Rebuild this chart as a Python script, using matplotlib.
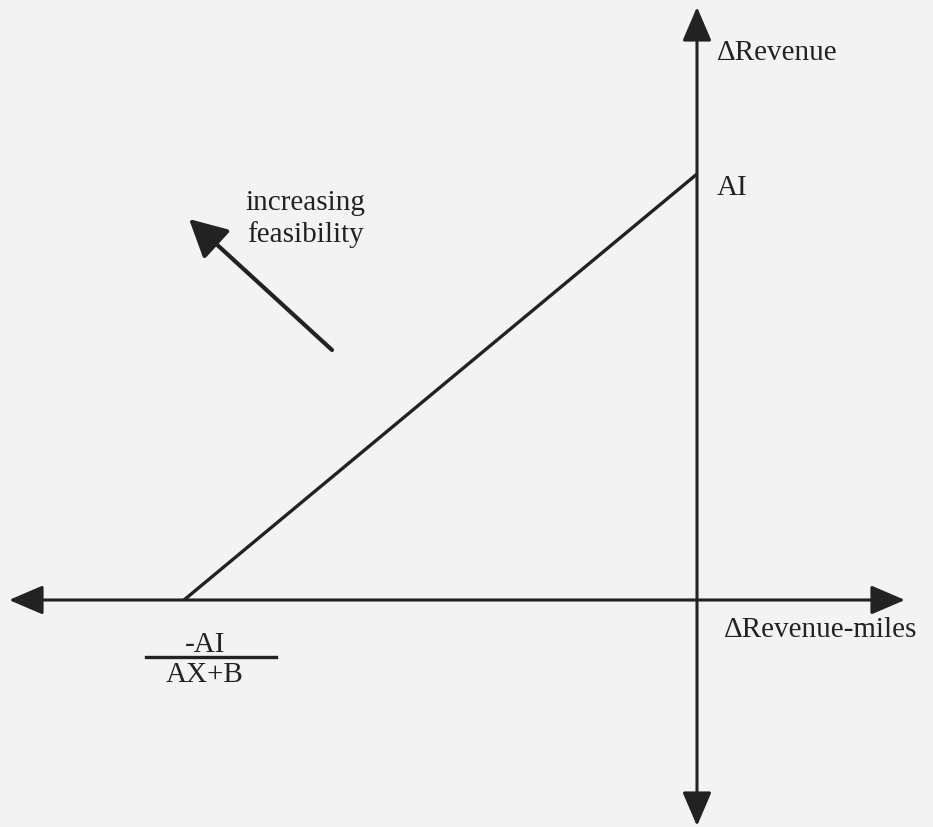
import matplotlib
matplotlib.use("Agg")
import matplotlib.pyplot as plt
from matplotlib.patches import FancyArrowPatch

# Diagram values (origin = axis intersection, 1 unit = 100 px)
x_intercept = -5.13          # -AI/(AX+B)
y_intercept = 4.26           # AI
constraint_x = [x_intercept, 0.0]
constraint_y = [0.0, y_intercept]
x_axis_range = [-6.88, 2.08]
y_axis_range = [-2.26, 5.93]
feasibility_tail = [-3.65, 2.50]
feasibility_head = [-5.08, 3.81]
labels = {
    "y_axis": "\u0394Revenue",
    "x_axis": "\u0394Revenue-miles",
    "y_int": "AI",
    "x_int_num": "-AI",
    "x_int_den": "AX+B",
    "arrow": "increasing\nfeasibility",
}

bg = "#f3f3f3"
ink = "#222222"
fs = 21
font = "Liberation Serif"

fig = plt.figure(figsize=(9.33, 8.28), dpi=100, facecolor=bg)
ax = fig.add_axes([0, 0, 1, 1])
ax.set_facecolor(bg)
ax.set_xlim(-6.97, 2.36)
ax.set_ylim(-2.27, 6.01)
ax.axis("off")

style = "<|-|>,head_length=21,head_width=9"
ax.add_patch(FancyArrowPatch((x_axis_range[0], 0), (x_axis_range[1], 0),
                             arrowstyle=style, mutation_scale=1, lw=2.2,
                             color=ink, shrinkA=0, shrinkB=0))
ax.add_patch(FancyArrowPatch((0, y_axis_range[0]), (0, y_axis_range[1]),
                             arrowstyle=style, mutation_scale=1, lw=2.2,
                             color=ink, shrinkA=0, shrinkB=0))

ax.plot(constraint_x, constraint_y, color=ink, lw=2.4, solid_capstyle="butt")

ax.add_patch(FancyArrowPatch(tuple(feasibility_tail), tuple(feasibility_head),
                             arrowstyle="-|>,head_length=23,head_width=12",
                             mutation_scale=1, lw=3.0, color=ink,
                             shrinkA=0, shrinkB=0, capstyle="round"))

ax.text(0.20, 5.48, labels["y_axis"], fontsize=fs, family=font, color=ink,
        ha="left", va="center")
ax.text(0.20, 4.13, labels["y_int"], fontsize=fs, family=font, color=ink,
        ha="left", va="center")
ax.text(0.27, -0.29, labels["x_axis"], fontsize=fs, family=font, color=ink,
        ha="left", va="center")
ax.text(-3.92, 3.82, labels["arrow"], fontsize=fs, family=font, color=ink,
        ha="center", va="center", linespacing=1.25)

# fraction label for the x intercept
ax.text(-4.92, -0.44, labels["x_int_num"], fontsize=fs, family=font, color=ink,
        ha="center", va="center")
ax.plot([-5.51, -4.21], [-0.57, -0.57], color=ink, lw=2.4)
ax.text(-4.92, -0.74, labels["x_int_den"], fontsize=fs, family=font, color=ink,
        ha="center", va="center")

fig.savefig("out.png", dpi=100, facecolor=bg)
